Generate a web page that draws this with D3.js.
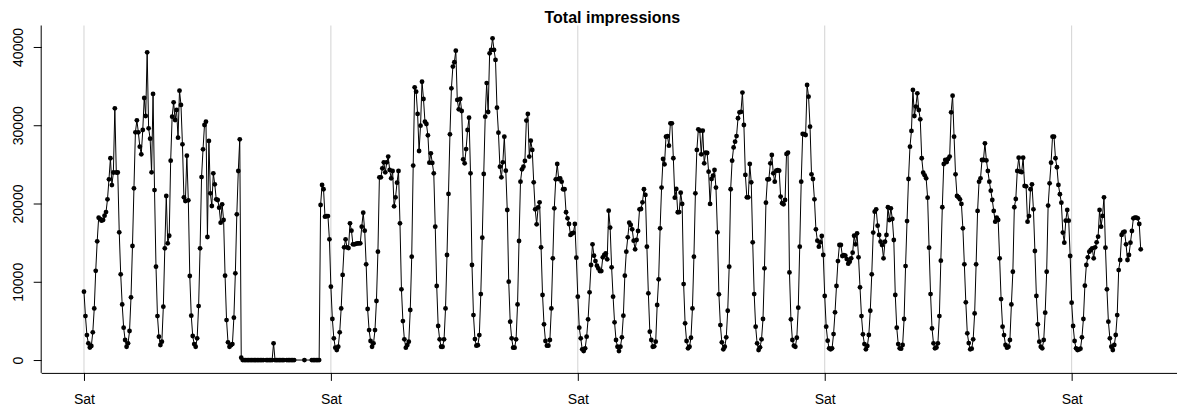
<!DOCTYPE html>
<html>
<head>
<meta charset="utf-8">
<script src="https://cdn.jsdelivr.net/npm/d3@7"></script>
<style>
  body { margin: 0; background: #fff; }
  svg { display: block; font-family: "Liberation Sans", Arial, Helvetica, sans-serif; }
  .grid line { stroke: #d3d3d3; stroke-width: 1; }
  .series { fill: none; stroke: #000; stroke-width: 1; }
  .dot { fill: #000; }
</style>
</head>
<body>
<svg class="chart"></svg>
<script>
'use strict';

// hourly totals, one row per day (null = hour missing in the log)
var startDay = Date.UTC(2014, 10, 1); // a Saturday, 00:00
var week1 = [
  8730,5620,3190,2130,1600,1790,3540,6600,11400,15170,18190,18000,17800,17900,18440,18900,20530,23090,25780,22360,23960,32160,23960,23960,
  16320,10950,7110,4130,2560,1700,2130,3710,8010,14570,21940,29100,30630,29100,27260,26290,29390,33480,31180,39320,29610,28280,23990,34000,
  21720,11930,5620,2980,1920,2340,6820,14270,20960,14910,15880,25470,31100,32930,30670,31950,28410,34420,32590,27560,20790,20320,26110,20400,
  10740,5670,3070,2040,1700,2770,6900,14270,23380,26920,30030,30460,15720,27990,21300,19680,23860,22450,20530,20450,19470,17550,19900,17890,
  10780,5110,2260,1700,1900,2040,5410,11080,18620,24150,28200,300,0,0,0,0,0,0,0,0,0,0,0,0,
  0,0,0,null,0,0,0,0,0,2130,0,0,0,0,0,0,0,null,0,0,0,0,0,0,
  null,null,null,null,null,null,0,null,null,null,null,0,0,0,0,0,0,19810,22370,21820,18320,18400,18400,15420
];
var week2 = [
  9370,5240,2770,1580,1280,1700,3540,6600,10870,14400,15420,14400,14300,17470,16530,14790,14790,14850,14900,14910,14910,17040,18830,16530,
  12230,6520,3830,2430,1700,2130,3830,7540,13850,23340,23340,24500,25260,23990,25260,25990,24290,23220,24150,19640,20790,22660,24150,17470,
  9030,4980,2640,1580,1920,2340,6390,13210,24840,34850,34290,31440,26710,29950,35560,33350,30460,30160,28710,25220,26410,25180,23860,17040,
  9460,4350,2640,1700,1700,2640,6600,13420,21220,28840,34720,37490,38050,39530,33230,32030,33350,31820,25650,25140,26960,29390,30970,23860,
  12140,5750,2680,1830,1900,3190,8430,15630,23770,31100,35390,31690,39190,39620,41100,39620,38340,32250,29050,24710,23340,25260,28540,24200,
  19170,10010,4900,2770,1580,1580,2640,7110,15210,22790,24370,24710,25440,30590,31440,25990,28030,26840,22710,19260,17340,19500,20150,14400,
  8310,4560,2430,1830,1830,2560,6600,13000,19390,23090,25050,23130,23200,22790,21820,21820,18880,18110,17380,15980,16170,16250,17380,13080
];
var week3 = [
  8100,4130,2770,1370,1150,1490,2980,5200,8650,12140,14790,13340,12650,12050,11700,11370,11370,13120,13420,13630,12870,19090,16920,11840,
  8100,4820,2560,1700,1150,1700,2900,5670,10780,13850,15680,17550,17260,16700,15250,14140,15340,16490,19260,19300,20150,21820,21090,14490,
  8520,3620,2560,1700,1750,2340,7030,10310,16830,22030,25690,25010,28540,28600,27390,30250,30250,25780,20750,21860,18880,18900,21390,19940,
  9710,4690,2430,1490,1700,2850,6600,13210,21300,26840,29480,29300,26290,29300,25140,26500,26450,24070,19940,23130,23560,24290,22030,16320,
  8390,4470,2260,1370,1700,2900,6300,11930,21820,25470,27170,27900,28620,30890,31650,31700,34170,30030,23650,20790,20790,25050,22710,15040,
  8430,4260,2130,1280,1620,2640,5240,11720,20110,23090,23100,25140,26200,23860,22790,24200,24250,24200,20880,20030,19900,20450,26330,26500,
  11200,5200,2560,1830,1700,2850,6690,14490,22790,28890,28850,28750,35140,33650,29820,23730,23130,20530,16700,15250,14490,15040,15850,13420
];
var week4 = [
  8180,4260,2470,1490,1370,1490,3320,6090,9460,12650,14700,14700,13290,13400,13330,12900,12310,12570,13000,13720,15880,14790,16190,13120,
  9290,5620,3280,2040,1370,1790,3200,6300,10950,16280,18960,19260,17170,15980,15120,14700,13000,15120,15980,19520,17890,19390,18020,15340,
  8310,4130,2040,1490,1450,1920,5240,12010,17760,23130,27260,29270,34510,31180,32380,34080,31950,30760,25780,23940,23600,23220,20750,14350,
  8430,4040,2130,1490,1600,2130,5620,12700,19520,25050,25560,25300,25690,25990,31650,33780,28540,23730,20960,20800,20530,19940,16830,12230,
  7370,3410,2170,1370,1450,2640,5960,12230,19050,22790,23220,25560,25560,27690,25500,24160,22790,21640,20450,19050,17680,18190,17900,13000,
  7790,4260,3190,1920,1580,1700,2560,7110,11280,19520,20580,24160,25860,24070,24000,25860,22240,22200,17680,18400,21820,22450,19260,13930,
  8180,4560,2340,1700,1490,2560,6050,11280,19730,22580,25220,28540,28540,25780,24630,22370,21180,20110,16280,15000,17810,19170,17810,13290
];
var week5 = [
  7330,4350,2430,1490,1280,1350,1450,2900,5240,9500,12140,13120,13850,14060,14270,13000,14400,15040,15760,19170,17040,18410,20790,14350,
  9030,4900,2770,1700,1280,1920,3200,5750,11500,12780,15980,16320,16400,14790,12780,13420,15000,16490,18110,18190,18200,18100,17380,14140
];
var yTicks = [0, 10000, 20000, 30000, 40000];
var chartTitle = 'Total impressions';

var W = 1177, H = 407;
var plot = {left: 41.7, right: 1183, top: 25.5, bottom: 372.9};
var HOUR = 3600 * 1000;

var hourly = week1.concat(week2, week3, week4, week5);
var data = [];
hourly.forEach(function(v, i) {
  if (v !== null) data.push({t: new Date(startDay + i * HOUR), v: v});
});

// R style 4% padding on both axes
function pad(ext) {
  var d = (ext[1] - ext[0]) * 0.04;
  return [ext[0] - d, ext[1] + d];
}
var tExt = d3.extent(data, function(d) { return +d.t; });
var vExt = d3.extent(data, function(d) { return d.v; });

var x = d3.scaleUtc().domain(pad(tExt).map(function(t) { return new Date(t); })).range([plot.left, plot.right]);
var y = d3.scaleLinear().domain(pad(vExt)).range([plot.bottom, plot.top]);

var svg = d3.select('.chart').attr('width', W).attr('height', H);

var sats = x.ticks(d3.utcSaturday.every(1));

svg.append('g').attr('class', 'grid')
  .selectAll('line').data(sats).enter().append('line')
    .attr('x1', function(d) { return x(d); })
    .attr('x2', function(d) { return x(d); })
    .attr('y1', plot.top)
    .attr('y2', plot.bottom);

var line = d3.line()
  .x(function(d) { return x(d.t); })
  .y(function(d) { return y(d.v); });

svg.append('path').datum(data).attr('class', 'series').attr('d', line);

svg.append('g').selectAll('circle').data(data).enter().append('circle')
  .attr('class', 'dot')
  .attr('cx', function(d) { return x(d.t); })
  .attr('cy', function(d) { return y(d.v); })
  .attr('r', 2.4);

// bottom axis
var xAxis = d3.axisBottom(x).tickValues(sats).tickFormat(d3.utcFormat('%a')).tickSize(8).tickPadding(13).tickSizeOuter(0);
var gx = svg.append('g').attr('transform', 'translate(0,' + plot.bottom + ')').call(xAxis);
gx.select('.domain').attr('d', 'M' + plot.left + ',0.5H' + plot.right);
gx.selectAll('text').attr('font-size', 14).attr('fill', '#000').attr('font-family', null);

// left axis, labels turned like R's default
var yAxis = d3.axisLeft(y).tickValues(yTicks).tickFormat(d3.format('d')).tickSize(8).tickSizeOuter(0);
var gy = svg.append('g').attr('transform', 'translate(' + plot.left + ',0)').call(yAxis);
gy.select('.domain').attr('d', 'M-0.5,' + plot.top + 'V' + plot.bottom);
gy.selectAll('text')
  .attr('font-size', 14).attr('fill', '#000').attr('font-family', null)
  .attr('x', null).attr('dy', null)
  .attr('text-anchor', 'middle')
  .attr('transform', 'translate(-18.3,0) rotate(-90)');

svg.append('text')
  .attr('x', (plot.left + plot.right) / 2)
  .attr('y', 23)
  .attr('text-anchor', 'middle')
  .attr('font-weight', 'bold')
  .attr('font-size', 16)
  .text(chartTitle);
</script>
</body>
</html>
